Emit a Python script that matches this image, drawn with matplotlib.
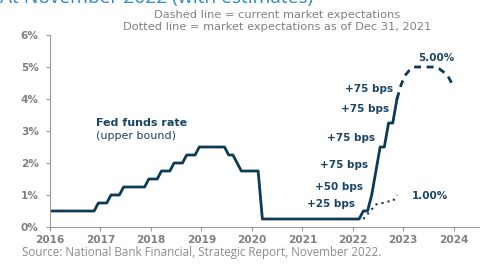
import matplotlib
matplotlib.use("Agg")
import matplotlib.pyplot as plt

# Fed funds rate (upper bound), monthly, Jan 2016 - Nov 2022
rate_2016 = [0.5] * 11 + [0.75]
rate_2017 = [0.75, 0.75, 1.0, 1.0, 1.0, 1.25, 1.25, 1.25, 1.25, 1.25, 1.25, 1.5]
rate_2018 = [1.5, 1.5, 1.75, 1.75, 1.75, 2.0, 2.0, 2.0, 2.25, 2.25, 2.25, 2.5]
rate_2019 = [2.5, 2.5, 2.5, 2.5, 2.5, 2.5, 2.25, 2.25, 2.0, 1.75, 1.75, 1.75]
rate_2020 = [1.75, 1.75] + [0.25] * 10
rate_2021 = [0.25] * 12
rate_2022 = [0.25, 0.25, 0.5, 0.5, 1.0, 1.75, 2.5, 2.5, 3.25, 3.25, 4.0]
fed_rate = rate_2016 + rate_2017 + rate_2018 + rate_2019 + rate_2020 + rate_2021 + rate_2022

# current market expectations (dashed), Nov 2022 - Dec 2023
dashed_rate = [4.0, 4.45, 4.75, 4.9, 5.0, 5.0, 5.0, 5.0, 5.0, 5.0, 4.95, 4.85, 4.75, 4.5]
# expectations as of Dec 31, 2021 (dotted), Mar 2022 - Nov 2022
dotted_rate = [0.25, 0.4, 0.55, 0.7, 0.75, 0.75, 0.8, 0.8, 1.0]

hike_labels = ["+25 bps", "+50 bps", "+75 bps", "+75 bps", "+75 bps", "+75 bps"]
hike_x = [2022.04, 2022.20, 2022.30, 2022.44, 2022.71, 2022.79]
hike_y = [0.72, 1.25, 1.94, 2.78, 3.69, 4.31]

years = list(range(2016, 2025))


def month_x(start_year, start_month, n):
    return [start_year + (start_month - 1 + i + 0.5) / 12 for i in range(n)]


navy = "#0e3a55"
text_navy = "#1a4566"
grey = "#808080"

fig = plt.figure(figsize=(4.82, 2.66), dpi=100)
ax = fig.add_axes([0.1037, 0.1466, 0.89, 0.7218])

ax.plot(month_x(2016, 1, len(fed_rate)), fed_rate, color=navy, lw=2)
ax.plot(month_x(2022, 11, len(dashed_rate)), dashed_rate, color=navy, lw=2,
        dashes=(2.5, 2.0))
ax.plot(month_x(2022, 3, len(dotted_rate)), dotted_rate, color=navy, lw=1.5,
        linestyle=(0, (1, 2)))

ax.set_xlim(2016, 2024.5)
ax.set_ylim(0, 6)
ax.set_xticks(years)
ax.set_xticklabels([str(y) for y in years])
ax.set_yticks(range(0, 7))
ax.set_yticklabels([f"{v}%" for v in range(0, 7)])

for s in ["top", "right"]:
    ax.spines[s].set_visible(False)
for s in ["left", "bottom"]:
    ax.spines[s].set_color("#9a9a9a")
    ax.spines[s].set_linewidth(0.8)
ax.tick_params(axis="both", colors="#9a9a9a", length=3, width=0.8,
               labelcolor=grey, labelsize=7.6)
ax.tick_params(axis="y", pad=5)
ax.tick_params(axis="x", pad=3)
for lbl in ax.get_xticklabels() + ax.get_yticklabels():
    lbl.set_fontweight("bold")

# annotations
ax.text(2016.92, 3.25, "Fed funds rate", color=text_navy, fontsize=8,
        fontweight="bold", va="center", ha="left")
ax.text(2016.92, 2.84, "(upper bound)", color=text_navy, fontsize=8,
        va="center", ha="left")
for lbl, x, y in zip(hike_labels, hike_x, hike_y):
    ax.text(x, y, lbl, color=text_navy, fontsize=7.5, fontweight="bold",
            ha="right", va="center")
ax.text(2023.29, 5.28, "5.00%", color=text_navy, fontsize=7.5,
        fontweight="bold", ha="left", va="center")
ax.text(2023.17, 0.97, "1.00%", color=text_navy, fontsize=7.5,
        fontweight="bold", ha="left", va="center")

fig.text(0.575, 0.945, "Dashed line = current market expectations",
         color=grey, fontsize=8.2, ha="center", va="center")
fig.text(0.575, 0.898, "Dotted line = market expectations as of Dec 31, 2021",
         color=grey, fontsize=8.2, ha="center", va="center")

# title is cropped at the top edge in the reference image
fig.text(0.0, 0.987, "At November 2022 (with estimates)", color="#2f8ac4",
         fontsize=13.8, family="Open Sans", ha="left", va="baseline")
fig.text(0.045, 0.05, "Source: National Bank Financial, Strategic Report, November 2022.",
         color="#8c8c8c", fontsize=8.4, family="Open Sans", ha="left", va="center")

fig.savefig("out.png", dpi=100)
